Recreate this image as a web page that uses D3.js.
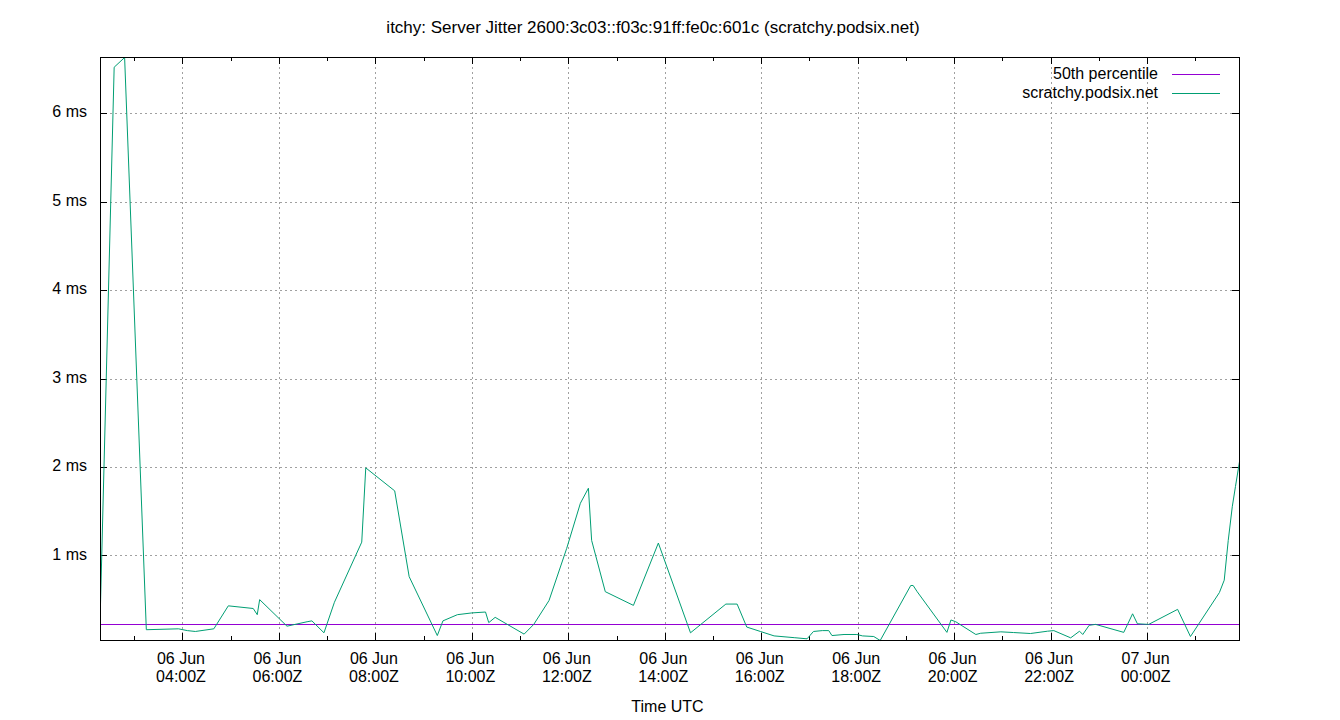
<!DOCTYPE html>
<html>
<head>
<meta charset="utf-8">
<script src="https://cdn.jsdelivr.net/npm/d3@7"></script>
<style>
  html, body { margin: 0; padding: 0; background: #fff; }
  svg { display: block; }
  text { font-family: "Liberation Sans", Arial, sans-serif; font-size: 16px; fill: #000; }
</style>
</head>
<body>
<svg id="chart" width="1340" height="720"></svg>
<script>
// ---- data ----
const titleText = "itchy: Server Jitter 2600:3c03::f03c:91ff:fe0c:601c (scratchy.podsix.net)";
const xAxisTitle = "Time UTC";
const seriesNames = ["50th percentile", "scratchy.podsix.net"];
const seriesColors = ["#9400d3", "#009e73"];
const percentileValue = 0.227;
const yTicks = [1, 2, 3, 4, 5, 6];
const jitterTimes = [
  "2024-06-06 02:18", "2024-06-06 02:35", "2024-06-06 02:48", "2024-06-06 03:15", "2024-06-06 03:55",
  "2024-06-06 04:06", "2024-06-06 04:16", "2024-06-06 04:39", "2024-06-06 04:57", "2024-06-06 05:28",
  "2024-06-06 05:33", "2024-06-06 05:36", "2024-06-06 06:10", "2024-06-06 06:35", "2024-06-06 06:41",
  "2024-06-06 06:56", "2024-06-06 07:09", "2024-06-06 07:43", "2024-06-06 07:48", "2024-06-06 08:24",
  "2024-06-06 08:42", "2024-06-06 09:17", "2024-06-06 09:24", "2024-06-06 09:42", "2024-06-06 10:00",
  "2024-06-06 10:17", "2024-06-06 10:21", "2024-06-06 10:29", "2024-06-06 11:05", "2024-06-06 11:17",
  "2024-06-06 11:36", "2024-06-06 11:58", "2024-06-06 12:15", "2024-06-06 12:25", "2024-06-06 12:29",
  "2024-06-06 12:46", "2024-06-06 13:21", "2024-06-06 13:52", "2024-06-06 14:32", "2024-06-06 15:16",
  "2024-06-06 15:30", "2024-06-06 15:42", "2024-06-06 15:59", "2024-06-06 16:16", "2024-06-06 16:41",
  "2024-06-06 16:57", "2024-06-06 17:05", "2024-06-06 17:16", "2024-06-06 17:24", "2024-06-06 17:28",
  "2024-06-06 17:43", "2024-06-06 17:59", "2024-06-06 18:06", "2024-06-06 18:20", "2024-06-06 18:28",
  "2024-06-06 19:06", "2024-06-06 19:09", "2024-06-06 19:14", "2024-06-06 19:51", "2024-06-06 19:56",
  "2024-06-06 20:02", "2024-06-06 20:27", "2024-06-06 20:33", "2024-06-06 20:58", "2024-06-06 21:14",
  "2024-06-06 21:35", "2024-06-06 21:56", "2024-06-06 22:04", "2024-06-06 22:25", "2024-06-06 22:36",
  "2024-06-06 22:40", "2024-06-06 22:48", "2024-06-06 22:56", "2024-06-06 23:31", "2024-06-06 23:42",
  "2024-06-06 23:48", "2024-06-07 00:02", "2024-06-07 00:38", "2024-06-07 00:54", "2024-06-07 01:30",
  "2024-06-07 01:36", "2024-06-07 01:41", "2024-06-07 01:46", "2024-06-07 01:50", "2024-06-07 01:55"
];
const jitterValues = [
  0.45, 6.52, 6.63, 0.16, 0.17,
  0.15, 0.14, 0.17, 0.43, 0.40,
  0.33, 0.50, 0.20, 0.25, 0.26,
  0.125, 0.47, 1.15, 1.99, 1.73,
  0.76, 0.094, 0.26, 0.33, 0.35,
  0.36, 0.24, 0.30, 0.11, 0.22,
  0.49, 1.08, 1.59, 1.76, 1.17,
  0.59, 0.435, 1.14, 0.125, 0.45,
  0.45, 0.19, 0.14, 0.09, 0.07,
  0.057, 0.14, 0.15, 0.15, 0.094,
  0.106, 0.106, 0.09, 0.083, 0.038,
  0.66, 0.66, 0.59, 0.13, 0.27,
  0.25, 0.106, 0.12, 0.136, 0.128,
  0.117, 0.143, 0.15, 0.068, 0.143,
  0.106, 0.21, 0.22, 0.13, 0.34,
  0.227, 0.22, 0.39, 0.083, 0.58,
  0.72, 1.17, 1.55, 1.78, 2.06
];

// ---- build ----
const parse = d3.utcParse("%Y-%m-%d %H:%M");
const data = jitterTimes.map((t, i) => ({ t: parse(t), v: jitterValues[i] }));

const W = 1340, H = 720;
const plot = { left: 100, right: 1239, top: 57, bottom: 640 };

const x = d3.scaleUtc().domain(d3.extent(data, d => d.t)).range([plot.left + 0.5, plot.right + 0.5]);
const y = d3.scaleLinear().domain(d3.extent(data, d => d.v)).range([plot.bottom + 0.5, plot.top + 0.5]);

const svg = d3.select("#chart");

// grid
const majorTimes = x.ticks(d3.utcHour.every(2));
const minorTimes = x.ticks(d3.utcHour.every(1)).filter(t => t.getUTCHours() % 2 === 1);
const grid = svg.append("g").attr("stroke", "#a0a0a0").attr("stroke-width", 1).attr("stroke-dasharray", "2,3");
grid.selectAll("line.gy").data(yTicks).join("line")
  .attr("x1", plot.left).attr("x2", plot.right)
  .attr("y1", d => Math.round(y(d)) + 0.5).attr("y2", d => Math.round(y(d)) + 0.5);
grid.selectAll("line.gx").data(majorTimes).join("line")
  .attr("x1", d => Math.round(x(d)) + 0.5).attr("x2", d => Math.round(x(d)) + 0.5)
  .attr("y1", plot.top).attr("y2", plot.bottom);

// ticks (inward, mirrored)
const ticksG = svg.append("g").attr("stroke", "#000").attr("stroke-width", 1);
const major = 7, minor = 4;
[[majorTimes, major], [minorTimes, minor]].forEach(([arr, len]) => {
  arr.forEach(t => {
    const px = Math.round(x(t)) + 0.5;
    ticksG.append("line").attr("x1", px).attr("x2", px).attr("y1", plot.bottom).attr("y2", plot.bottom - len);
    ticksG.append("line").attr("x1", px).attr("x2", px).attr("y1", plot.top).attr("y2", plot.top + len);
  });
});
yTicks.forEach(v => {
  const py = Math.round(y(v)) + 0.5;
  ticksG.append("line").attr("x1", plot.left).attr("x2", plot.left + major).attr("y1", py).attr("y2", py);
  ticksG.append("line").attr("x1", plot.right).attr("x2", plot.right - major).attr("y1", py).attr("y2", py);
});

// y tick labels
svg.append("g").selectAll("text").data(yTicks).join("text")
  .attr("x", 87).attr("y", d => y(d) - 1.5).attr("dy", "0.35em")
  .attr("text-anchor", "end").text(d => d + " ms");

// x tick labels
const fmtDay = d3.utcFormat("%d %b"), fmtTime = d3.utcFormat("%H:%MZ");
const xl = svg.append("g").selectAll("text").data(majorTimes).join("text")
  .attr("text-anchor", "middle");
xl.append("tspan").attr("x", d => x(d) - 1.5).attr("y", 664).text(d => fmtDay(d));
xl.append("tspan").attr("x", d => x(d) - 1.5).attr("y", 682).text(d => fmtTime(d));

// percentile line
svg.append("line")
  .attr("x1", plot.left).attr("x2", plot.right)
  .attr("y1", Math.round(y(percentileValue)) + 0.5).attr("y2", Math.round(y(percentileValue)) + 0.5)
  .attr("stroke", seriesColors[0]).attr("stroke-width", 1);

// jitter line
svg.append("path").datum(data)
  .attr("fill", "none").attr("stroke", seriesColors[1]).attr("stroke-width", 1)
  .attr("d", d3.line().x(d => x(d.t)).y(d => y(d.v)));

// border
svg.append("rect")
  .attr("x", plot.left + 0.5).attr("y", plot.top + 0.5)
  .attr("width", plot.right - plot.left).attr("height", plot.bottom - plot.top)
  .attr("fill", "none").attr("stroke", "#000").attr("stroke-width", 1);

// legend
const legend = svg.append("g");
seriesNames.forEach((name, i) => {
  const ly = 74 + i * 19;
  legend.append("text").attr("x", 1158).attr("y", ly - 1).attr("dy", "0.35em")
    .attr("text-anchor", "end").text(name);
  legend.append("line").attr("x1", 1172).attr("x2", 1220)
    .attr("y1", ly + 0.5).attr("y2", ly + 0.5)
    .attr("stroke", seriesColors[i]).attr("stroke-width", 1);
});

// titles
svg.append("text").attr("x", 653).attr("y", 27).attr("dy", "0.35em")
  .attr("text-anchor", "middle").style("font-size", "17px").text(titleText);
svg.append("text").attr("x", (plot.left + plot.right) / 2 - 2).attr("y", 706).attr("dy", "0.35em")
  .attr("text-anchor", "middle").text(xAxisTitle);
</script>
</body>
</html>
